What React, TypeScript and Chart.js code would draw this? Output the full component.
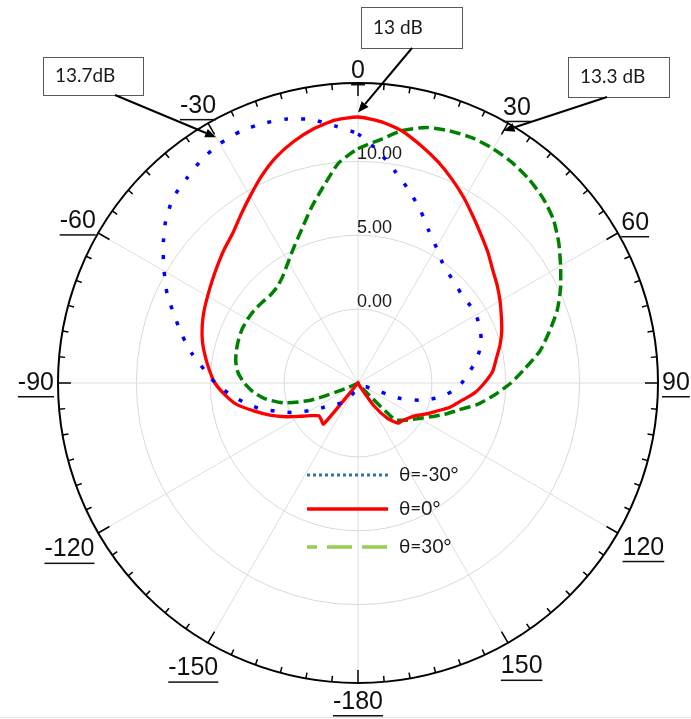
import React, { useEffect, useRef } from "react";
import { Chart, registerables } from "chart.js";

Chart.register(...registerables);

// Azimuth in degrees, clockwise from the top, 5° apart: 0..180 then -175..-5
const azimuths: number[] = Array.from({ length: 72 }, (_, i) => (i <= 36 ? i * 5 : i * 5 - 360));

// Gain (dB) for each azimuth, same order as `azimuths`
const gainMinus30: number[] = [
  11.85, 10.75, 9.52, 8.45, 7.4, 6.35, 5.6, 4.95, 4.6, 4.35,
  4.23, 4.22, 4.2, 4.1, 3.86, 3.52, 3.05, 2.5, 2.02, 1.4,
  0.6, -0.5, -1.9, -4.4, -4.5, -4.55, -4.55, -4.55, -4.55, -4.55,
  -4.55, -4.55, -4.55, -4.55, -4.55, -4.52, -4.52,
  -4.5, -4.46, -4.42, -4.36, -4.24, -3.9, -3.6, -3.24, -2.97, -2.7,
  -2.1, -1.3, -0.25, 0.65, 1.8, 2.75, 3.7, 4.65, 5.45, 6.4,
  7.3, 8.2, 9.25, 10.15, 11.1, 12.0, 12.7, 13.05, 13.45, 13.7,
  13.8, 13.7, 13.5, 13.1, 12.45,
];

const gain0: number[] = [
  13.0, 12.75, 12.3, 11.6, 10.9, 10.15, 9.4, 8.65, 8.0, 7.45,
  6.9, 6.5, 6.1, 5.7, 5.35, 4.95, 4.5, 4.15, 3.55, 2.9,
  2.05, 1.4, 0.6, 0.0, -0.55, -0.85, -1.05, -1.15, -1.85, -3.1,
  -4.65, -5, -5, -5, -5, -5, -5,
  -5, -5, -5, -5, -5, -5, -5, -1.37, -1.48, -1.55,
  -1.14, -0.5, 0.4, 1.35, 2.3, 3.35, 4.05, 4.68, 5.1, 5.5,
  5.9, 6.22, 6.5, 6.75, 7.05, 7.4, 7.8, 8.2, 8.85, 9.6,
  10.45, 11.25, 11.9, 12.45, 12.85,
];

const gain30: number[] = [
  10.85, 11.5, 12.35, 12.9, 13.15, 13.3, 13.3, 13.2, 13.0, 12.7,
  12.25, 11.58, 10.83, 10.12, 9.34, 8.4, 7.5, 6.35, 5.35, 4.27,
  3.25, 2.04, 1.22, 0.41, -0.2, -0.67, -1.08, -1.5, -4.5, -5,
  -5, -5, -5, -5, -5, -5, -5,
  -5, -5, -5, -5, -5, -5, -5, -5, -5, -5,
  -5, -5, -4.2, -1.6, 0.2, 1.3, 2.1, 2.7, 3.15, 3.4,
  3.52, 3.6, 3.65, 3.63, 3.58, 3.48, 3.4, 3.5, 3.85, 4.45,
  5.2, 6.1, 7.25, 8.5, 9.95,
];

const seriesNames = ["θ=-30°", "θ=0°", "θ=30°"];
const angleTickLabels = ["0", "30", "60", "90", "120", "150", "-180", "-150", "-120", "-90", "-60", "-30"];
const radialTickValues = [0, 5, 10];

// Peak-gain callouts
const calloutTexts = ["13.7dB", "13 dB", "13.3 dB"];
const calloutAzimuths = [-30, 0, 30];
const calloutTipGain = [14.2, 13.3, 14.7];

const GAIN_MIN = -5;
const GAIN_MAX = 15.3;

// Callout box placement relative to the plot centre
const calloutBoxes = [
  { dx: -315, dy: -326, w: 100, h: 38, tail: 72 },
  { dx: 3, dy: -376, w: 101, h: 41, tail: 51 },
  { dx: 210, dy: -326, w: 101, h: 40, tail: 39 },
];

const legendStyles = [
  { color: "#2f75b5", dash: [3, 3], offset: 0, width: 3, dy: 92 },
  { color: "#ff0000", dash: [], offset: 0, width: 3.5, dy: 126 },
  { color: "#92d050", dash: [25, 10], offset: 15, width: 3.5, dy: 164 },
];

const AXIS_FONT = '"Liberation Sans", Arial, sans-serif';
const NOTE_FONT = 'Lato, "Open Sans", sans-serif';

const azIndex = (az: number) => ((Math.round(az / 5) % 72) + 72) % 72;

const polarFrame = {
  id: "polarFrame",
  beforeDatasetsDraw(chart: any) {
    const s = chart.scales.r;
    const ctx = chart.ctx as CanvasRenderingContext2D;
    const cx = s.xCenter;
    const cy = s.yCenter;
    ctx.save();
    ctx.fillStyle = "#1a1a1a";
    ctx.font = `18px ${AXIS_FONT}`;
    ctx.textAlign = "left";
    ctx.textBaseline = "alphabetic";
    radialTickValues.forEach((v) => {
      const d = s.getDistanceFromCenterForValue(v);
      ctx.fillText(v.toFixed(2), cx - 1, cy - d - 2);
    });
    ctx.restore();
  },
  afterDraw(chart: any) {
    const s = chart.scales.r;
    const ctx = chart.ctx as CanvasRenderingContext2D;
    const cx = s.xCenter;
    const cy = s.yCenter;
    const R = s.drawingArea;
    ctx.save();

    // outer ring
    ctx.strokeStyle = "#000";
    ctx.lineWidth = 2;
    ctx.beginPath();
    ctx.arc(cx, cy, R, 0, Math.PI * 2);
    ctx.stroke();

    // inward tick marks every 5°, longer every 30°
    ctx.lineWidth = 1.5;
    for (let i = 0; i < azimuths.length; i++) {
      const major = i % 6 === 0;
      const a = s.getPointPosition(i, R);
      const b = s.getPointPosition(i, R - (major ? 13 : 6));
      ctx.beginPath();
      ctx.moveTo(a.x, a.y);
      ctx.lineTo(b.x, b.y);
      ctx.stroke();
    }

    // underlined azimuth labels (the underline needs room below the digits)
    ctx.fillStyle = "#111";
    ctx.font = `25px ${AXIS_FONT}`;
    ctx.textAlign = "center";
    ctx.textBaseline = "middle";
    angleTickLabels.forEach((txt, k) => {
      const i = k * 6;
      const w = ctx.measureText(txt).width;
      const u = s.getPointPosition(i, 1);
      const ux = u.x - cx;
      const uy = u.y - cy;
      const vert = uy < 0 ? 8 : 15;
      const d = R + 4 + (Math.abs(ux) * w) / 2 + Math.abs(uy) * vert;
      const p = s.getPointPosition(i, d);
      ctx.fillText(txt, p.x, p.y);
      ctx.fillRect(p.x - w / 2, p.y + 13, w, 1.5);
    });

    // callouts with arrows
    calloutTexts.forEach((txt, k) => {
      const box = calloutBoxes[k];
      const bx = cx + box.dx;
      const by = cy + box.dy;
      ctx.fillStyle = "#fff";
      ctx.fillRect(bx, by, box.w, box.h);
      ctx.strokeStyle = "#595959";
      ctx.lineWidth = 1;
      ctx.strokeRect(bx + 0.5, by + 0.5, box.w, box.h);
      ctx.fillStyle = "#1a1a1a";
      ctx.font = `19px ${NOTE_FONT}`;
      ctx.textAlign = "left";
      ctx.textBaseline = "middle";
      ctx.fillText(txt, bx + 12, by + box.h / 2);

      const tip = s.getPointPositionForValue(azIndex(calloutAzimuths[k]), calloutTipGain[k]);
      const tx = bx + box.tail;
      const ty = by + box.h;
      const ang = Math.atan2(tip.y - ty, tip.x - tx);
      const head = 11;
      const half = 4.5;
      const baseX = tip.x - Math.cos(ang) * head;
      const baseY = tip.y - Math.sin(ang) * head;
      ctx.strokeStyle = "#000";
      ctx.lineWidth = 2;
      ctx.beginPath();
      ctx.moveTo(tx, ty);
      ctx.lineTo(baseX, baseY);
      ctx.stroke();
      ctx.fillStyle = "#000";
      ctx.beginPath();
      ctx.moveTo(tip.x, tip.y);
      ctx.lineTo(baseX - Math.sin(ang) * half, baseY + Math.cos(ang) * half);
      ctx.lineTo(baseX + Math.sin(ang) * half, baseY - Math.cos(ang) * half);
      ctx.closePath();
      ctx.fill();
    });

    // legend
    seriesNames.forEach((name, k) => {
      const st = legendStyles[k];
      const y = cy + st.dy;
      ctx.strokeStyle = st.color;
      ctx.lineWidth = st.width;
      ctx.lineCap = "butt";
      ctx.setLineDash(st.dash);
      ctx.lineDashOffset = st.offset;
      ctx.beginPath();
      ctx.moveTo(cx - 51, y);
      ctx.lineTo(cx + 30, y);
      ctx.stroke();
      ctx.setLineDash([]);
      ctx.lineDashOffset = 0;
      ctx.fillStyle = "#1a1a1a";
      ctx.font = `19px ${NOTE_FONT}`;
      ctx.textAlign = "left";
      ctx.textBaseline = "middle";
      ctx.fillText(name, cx + 41, y);
    });

    // thin rule along the bottom edge
    ctx.fillStyle = "#e3e3e3";
    ctx.fillRect(0, chart.height - 2, chart.width, 1);

    ctx.restore();
  },
};

export default function App() {
  const canvasRef = useRef<HTMLCanvasElement | null>(null);

  useEffect(() => {
    const canvas = canvasRef.current;
    if (!canvas) return;
    const chart = new Chart(canvas, {
      type: "radar",
      data: {
        labels: azimuths.map(String),
        datasets: [
          {
            label: seriesNames[0],
            data: gainMinus30,
            borderColor: "#0000ff",
            borderWidth: 3.5,
            borderDash: [4, 13],
            borderCapStyle: "butt",
            pointRadius: 0,
            fill: false,
            tension: 0.2,
          },
          {
            label: seriesNames[1],
            data: gain0,
            borderColor: "#ff0000",
            borderWidth: 3.3,
            pointRadius: 0,
            fill: false,
            tension: 0.2,
          },
          {
            label: seriesNames[2],
            data: gain30,
            borderColor: "#008000",
            borderWidth: 3.5,
            borderDash: [11, 5],
            borderCapStyle: "butt",
            pointRadius: 0,
            fill: false,
            tension: 0.2,
          },
        ],
      },
      options: {
        responsive: false,
        animation: false,
        devicePixelRatio: 1,
        layout: { padding: { left: 58, right: 33, top: 83, bottom: 36 } },
        plugins: {
          legend: { display: false },
          tooltip: { enabled: false },
        },
        scales: {
          r: {
            min: GAIN_MIN,
            max: GAIN_MAX,
            startAngle: 0,
            ticks: { display: false, stepSize: 5 },
            pointLabels: { display: false },
            grid: {
              circular: true,
              lineWidth: 1,
              color: (c: any) =>
                c.tick && radialTickValues.includes(c.tick.value) ? "#d9d9d9" : "rgba(0,0,0,0)",
            },
            angleLines: {
              display: true,
              lineWidth: 1,
              color: (c: any) => (c.index % 6 === 0 ? "#dedede" : "rgba(0,0,0,0)"),
            },
          },
        },
      },
      plugins: [polarFrame],
    } as any);
    return () => chart.destroy();
  }, []);

  return (
    <div style={{ position: "absolute", left: 0, top: 0, width: 691, height: 719, background: "#fff" }}>
      <canvas ref={canvasRef} width={691} height={719} style={{ display: "block", width: 691, height: 719 }} />
    </div>
  );
}
